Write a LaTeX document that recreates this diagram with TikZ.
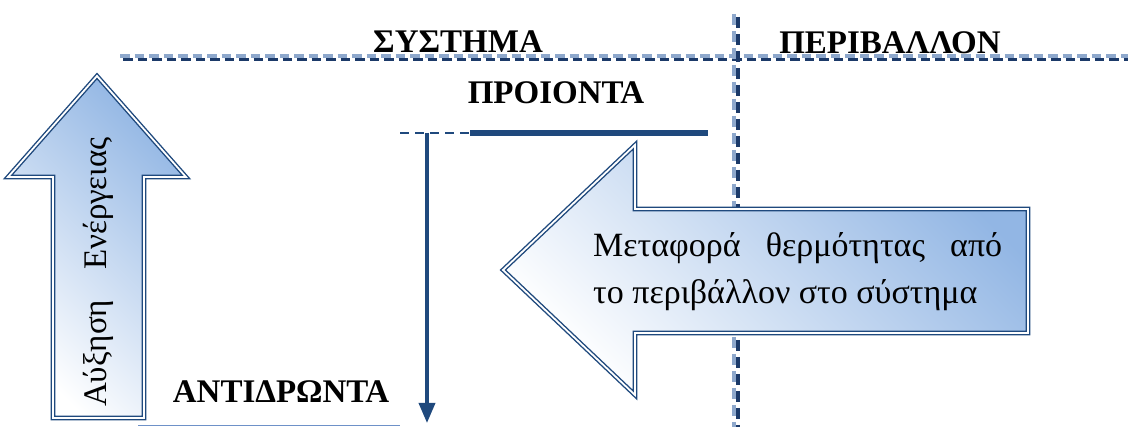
\documentclass[tikz,border=0pt]{standalone}
\usepackage{fontspec}
\setmainfont{Liberation Serif}
\usetikzlibrary{arrows.meta}
\definecolor{dkblue}{RGB}{31,73,125}
\definecolor{lnlight}{RGB}{142,168,204}
\definecolor{lndark}{RGB}{28,58,105}
\definecolor{fillblue}{RGB}{146,182,228}
\definecolor{lnbottom}{RGB}{110,145,200}
\begin{document}
\begin{tikzpicture}[x=1pt,y=-1pt,
  sepA/.style={lnlight, line width=3.5pt, dash pattern=on 9.5pt off 5pt},
  sepB/.style={lndark, line width=3.5pt, dash pattern=on 9.5pt off 5pt},
  vsepA/.style={lnlight, line width=3.5pt, dash pattern=on 11pt off 6pt},
  vsepB/.style={lndark, line width=3.5pt, dash pattern=on 11pt off 6pt},
  arrowshape/.style={top color=fillblue, bottom color=white, shading angle=-45,
     draw=dkblue, double=white, double distance=1.8pt, line width=1.4pt},
  heading/.style={font=\bfseries\fontsize{33}{36}\selectfont, inner sep=0pt},
  uptext/.style={font=\fontsize{33}{40}\selectfont, inner sep=0pt},
  bodytext/.style={font=\fontsize{34}{47}\selectfont, inner sep=0pt, anchor=base west}]
\useasboundingbox (0,0) rectangle (1128,427);

% separator lines
\coordinate (hA1) at (120,56);   \coordinate (hA2) at (1128,56);
\coordinate (hB1) at (123,59.5); \coordinate (hB2) at (1128,59.5);
\coordinate (vA1) at (734,14);   \coordinate (vA2) at (734,427);
\coordinate (vB1) at (738,17);   \coordinate (vB2) at (738,427);
\draw[sepA] (hA1) -- (hA2);
\draw[sepB] (hB1) -- (hB2);
\draw[vsepA] (vA1) -- (vA2);
\draw[vsepB] (vB1) -- (vB2);

% headings
\node[heading] (sys) at (458,42) {ΣΥΣΤΗΜΑ};
\node[heading] (env) at (890,43) {ΠΕΡΙΒΑΛΛΟΝ};
\node[heading] (prod) at (556,93) {ΠΡΟΙΟΝΤΑ};
\node[heading] (react) at (281,392) {ΑΝΤΙΔΡΩΝΤΑ};

% energy levels
\coordinate (dl) at (400,133);
\coordinate (pl) at (470,133);
\coordinate (pr) at (708,133);
\coordinate (top) at (427,133);
\coordinate (bot) at (427,423);
\draw[dkblue, line width=2pt, dash pattern=on 9pt off 6pt] (dl) -- (pl);
\draw[dkblue, line width=6pt] (pl) -- (pr);
\draw[dkblue, line width=3.5pt, -{Triangle[width=16pt,length=20pt]}] (top) -- (bot);
\coordinate (b1) at (138,425.5);
\coordinate (b2) at (400,425.5);
\draw[lnbottom, line width=1.5pt] (b1) -- (b2);

% up arrow
\path[arrowshape] (97,76) -- (186,177) -- (144,177) -- (144,418) -- (53,418)
   -- (53,177) -- (8,177) -- cycle;
\node[uptext, rotate=90] (up) at (98,272) {\makebox[270pt][s]{Αύξηση Ενέργειας}};

% big left arrow
\path[arrowshape] (503,270) -- (635,145) -- (635,209) -- (1028,209) -- (1028,333)
   -- (635,333) -- (635,395) -- cycle;
\node[bodytext] (heat1) at (593,257) {\makebox[409pt][s]{Μεταφορά θερμότητας από}};
\node[bodytext] (heat2) at (593,304) {το περιβάλλον στο σύστημα};
\end{tikzpicture}
\end{document}
